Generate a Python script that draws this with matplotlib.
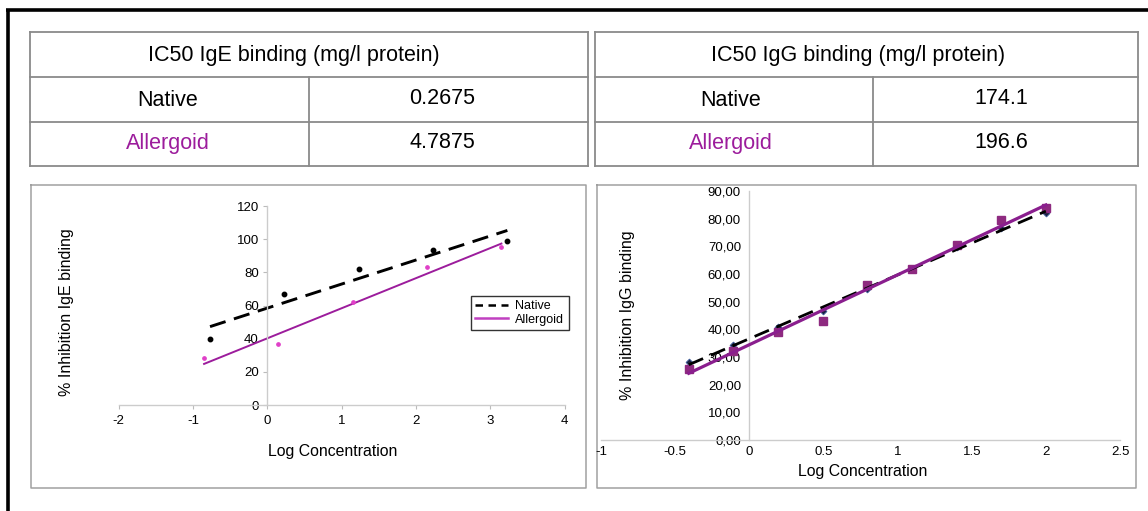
import numpy as np
import matplotlib
matplotlib.use("Agg")
import matplotlib.pyplot as plt
from matplotlib.lines import Line2D

plt.rcParams['font.family'] = ['Liberation Sans', 'DejaVu Sans']
plt.rcParams['axes.unicode_minus'] = False

# table contents
ige_header = "IC50 IgE binding (mg/l protein)"
igg_header = "IC50 IgG binding (mg/l protein)"
row_labels = ["Native", "Allergoid"]
ige_ic50 = ["0.2675", "4.7875"]
igg_ic50 = ["174.1", "196.6"]

# IgE inhibition (left chart)
ige_native_x = [-0.77, 0.23, 1.23, 2.23, 3.23]
ige_native_y = [39.8, 66.9, 82.0, 93.7, 98.9]
ige_allerg_x = [-0.85, 0.15, 1.15, 2.15, 3.15]
ige_allerg_y = [28.1, 36.6, 61.9, 83.2, 95.5]

# IgG inhibition (right chart)
igg_x = [-0.408, -0.107, 0.194, 0.495, 0.796, 1.097, 1.398, 1.699, 2.0]
igg_native_y = [28.1, 34.2, 40.8, 46.7, 54.6, 61.7, 69.7, 76.8, 82.0]
igg_allerg_y = [25.6, 32.2, 38.9, 42.9, 55.9, 61.7, 70.4, 79.4, 83.8]

W, H = 1148, 511
purple = "#9c1c9c"
line_gray = "#8a8a8a"

fig = plt.figure(figsize=(W / 100, H / 100), dpi=100)

# background layer in pixel coordinates (tables, frames)
bg = fig.add_axes([0, 0, 1, 1])
bg.set_xlim(0, W)
bg.set_ylim(H, 0)
bg.axis('off')

# black frame on top and left
bg.plot([6, W], [10.5, 10.5], color="black", lw=2.6, solid_capstyle='butt')
bg.plot([7.5, 7.5], [9, H], color="black", lw=2.6, solid_capstyle='butt')


def draw_table(x0, x1, xdiv, header, values, hx, lx, vx):
    rows = [32, 77, 122, 166]
    for y in rows:
        bg.plot([x0, x1], [y, y], color=line_gray, lw=1.3)
    bg.plot([x0, x0], [rows[0], rows[-1]], color=line_gray, lw=1.3)
    bg.plot([x1, x1], [rows[0], rows[-1]], color=line_gray, lw=1.3)
    bg.plot([xdiv, xdiv], [rows[1], rows[-1]], color=line_gray, lw=1.3)
    bg.text(hx, 55.5, header, ha='center', va='center', fontsize=15.5)
    for i, (lab, val) in enumerate(zip(row_labels, values)):
        yc = 100 + i * 44
        bg.text(lx, yc, lab, ha='center', va='center', fontsize=15.5,
                color=purple if lab == "Allergoid" else "black")
        bg.text(vx, yc - 1, val, ha='center', va='center', fontsize=15.5)


draw_table(30, 588, 309, ige_header, ige_ic50, 294, 168, 442)
draw_table(595, 1138, 873, igg_header, igg_ic50, 858, 731, 1001)

# chart frames
for (x0, x1) in [(31, 586), (597, 1136)]:
    bg.plot([x0, x1, x1, x0, x0], [185, 185, 488, 488, 185], color="#a0a0a0", lw=1.1)


def px_axes(left, right, y0, ytop):
    return fig.add_axes([left / W, 1 - y0 / H, (right - left) / W, (y0 - ytop) / H])


def style_axes(ax):
    ax.set_facecolor('none')
    for s in ['top', 'right']:
        ax.spines[s].set_visible(False)
    ax.spines['left'].set_position(('data', 0))
    ax.spines['bottom'].set_position(('data', 0))
    for s in ['left', 'bottom']:
        ax.spines[s].set_color('#cccccc')
        ax.spines[s].set_linewidth(1.0)
    ax.tick_params(length=3, width=0.8, color='#bbbbbb', labelsize=9.5, pad=3)


def fit_line(x, y):
    k, b = np.polyfit(x, y, 1)
    xs = np.array([min(x), max(x)])
    return xs, k * xs + b


# left chart: IgE
ax1 = px_axes(118.6, 564.6, 405, 206)
style_axes(ax1)
ax1.set_xlim(-2, 4)
ax1.set_ylim(0, 120)
ax1.set_xticks(range(-2, 5))
ax1.set_yticks(range(0, 121, 20))
ax1.tick_params(axis='x', pad=4)

xs, ys = fit_line(ige_native_x, ige_native_y)
ax1.plot(xs, ys, color='black', lw=2.1, dashes=(5.6, 3.0), clip_on=False)
xs, ys = fit_line(ige_allerg_x, ige_allerg_y)
ax1.plot(xs, ys, color=purple, lw=1.4, clip_on=False)
ax1.plot(ige_native_x, ige_native_y, 'o', color='black', ms=3.2, clip_on=False)
ax1.plot(ige_allerg_x, ige_allerg_y, 'o', color='#e040c8', ms=2.4, clip_on=False)

fig.text(333 / W, 1 - 451 / H, "Log Concentration", ha='center', va='center', fontsize=11.4)
fig.text(66 / W, 1 - 312 / H, "% Inhibition IgE binding", ha='center', va='center',
         rotation=90, fontsize=11.5)

handles = [Line2D([], [], color='black', lw=1.8, dashes=(3, 2.2)),
           Line2D([], [], color='#c040c0', lw=1.8)]
leg = fig.legend(handles, ["Native", "Allergoid"], loc='upper left',
                 bbox_to_anchor=(471 / W, 1 - 296 / H), fontsize=9,
                 frameon=True, fancybox=False, edgecolor='black',
                 handlelength=2.6, handletextpad=0.6, labelspacing=0.1,
                 borderpad=0.35, borderaxespad=0)
leg.get_frame().set_linewidth(1.0)

# right chart: IgG
ax2 = px_axes(601, 1120, 440, 191)
style_axes(ax2)
ax2.set_xlim(-1, 2.5)
ax2.set_ylim(0, 90)
ax2.set_xticks([-1, -0.5, 0, 0.5, 1, 1.5, 2, 2.5])
ax2.set_xticklabels(["-1", "-0.5", "0", "0.5", "1", "1.5", "2", "2.5"])
ax2.set_yticks(range(0, 91, 10))
ax2.set_yticklabels([f"{v},00" for v in range(0, 91, 10)])
ax2.tick_params(axis='both', length=0)
ax2.tick_params(axis='y', pad=6)
ax2.tick_params(axis='x', pad=4)

ax2.plot(igg_x, igg_native_y, 'D', color='#1c2340', mec='#3a5a9a', ms=3.5, mew=0.6, zorder=2)
ax2.plot(igg_x, igg_allerg_y, 's', color='#8e2a80', ms=5.2, zorder=3)
xs, ys = fit_line(igg_x, igg_native_y)
ax2.plot(xs, ys, color='black', lw=2.0, dashes=(5.6, 3.0), zorder=4)
xs, ys = fit_line(igg_x, igg_allerg_y)
ax2.plot(xs, ys, color='#8a1e8e', lw=2.3, zorder=5)

fig.text(863 / W, 1 - 471 / H, "Log Concentration", ha='center', va='center', fontsize=11.4)
fig.text(628 / W, 1 - 315 / H, "% Inhibition IgG binding", ha='center', va='center',
         rotation=90, fontsize=11.5)

fig.savefig("out.png", dpi=100)
